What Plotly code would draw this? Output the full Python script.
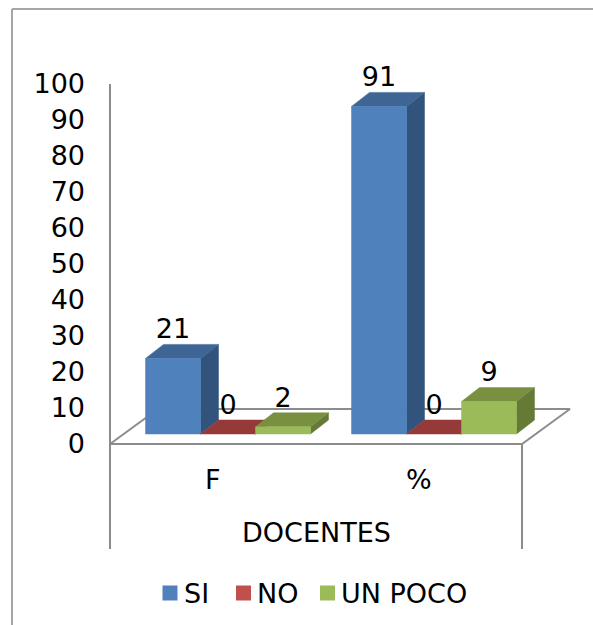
import plotly.graph_objects as go

# Chart data
categories = ["F", "%"]
series_names = ["SI", "NO", "UN POCO"]
si_values = [21, 91]
no_values = [0, 0]
un_poco_values = [2, 9]
axis_ticks = [0, 10, 20, 30, 40, 50, 60, 70, 80, 90, 100]
axis_title = "DOCENTES"

# Colours per series: front, top and side faces
front_colors = ["#4f81bd", "#c0504d", "#9bbb59"]
top_colors = ["#3e6594", "#953a38", "#789040"]
side_colors = ["#32547c", "#7d302e", "#647a36"]
line_color = "#8c8c8c"
FONT = "DejaVu Sans"
FONT_SIZE = 27

# Page geometry in pixels
W, H = 593, 625
PLOT_LEFT = 100
AXIS_X, BASE, TOP = 110, 444, 84
PX_PER_GROUP = 206
PX_PER_VALUE = (BASE - TOP) / 100


def dx(px):
    return px / PX_PER_GROUP


def dy(px):
    return px / PX_PER_VALUE


def page_to_x(px):
    return -0.5 + dx(px - AXIS_X)


def page_to_y(py):
    return dy(BASE - py)


# Oblique projection of the pseudo-3D floor and bar depth
FLOOR_DEPTH = (dx(48), dy(35))
BAR_OFFSET = (dx(15), dy(10))
BAR_DEPTH = (dx(18), dy(14))
BAR_WIDTH = dx(55)

fig = go.Figure()


def polygon(xs, ys, color):
    fig.add_trace(go.Scatter(
        x=xs + xs[:1], y=ys + ys[:1], mode="lines", fill="toself",
        fillcolor=color, line=dict(color=color, width=0.5),
        hoverinfo="skip", showlegend=False))


def rule(xs, ys, color=line_color):
    fig.add_trace(go.Scatter(
        x=xs, y=ys, mode="lines", line=dict(color=color, width=2),
        hoverinfo="skip", showlegend=False))


def caption(x, y, text):
    fig.add_annotation(
        x=x, y=y, text=text, showarrow=False, xanchor="center", yanchor="middle",
        font=dict(family=FONT, size=FONT_SIZE, color="black"))


# Value axis, floor outline and the dividers under the category axis
x_lo, x_hi = -0.5, 1.5
fx, fy = FLOOR_DEPTH
rule([x_lo, x_lo], [0, 100])
rule([x_lo, x_hi, x_hi + fx, x_lo + fx, x_lo], [0, 0, fy, fy, 0])
for x in (x_lo, x_hi):
    rule([x, x], [0, -dy(105)])

# Bars, one box per value, with front, side and top faces
series_values = [si_values, no_values, un_poco_values]
label_x, label_y, label_text = [], [], []
for g in range(len(categories)):
    for s, values in enumerate(series_values):
        v = values[g]
        x0 = g + BAR_OFFSET[0] + (s - 1.5) * BAR_WIDTH
        x1 = x0 + BAR_WIDTH
        y0 = BAR_OFFSET[1]
        y1 = y0 + v
        ddx, ddy = BAR_DEPTH
        polygon([x1, x1 + ddx, x1 + ddx, x1], [y0, y0 + ddy, y1 + ddy, y1], side_colors[s])
        polygon([x0, x1, x1 + ddx, x0 + ddx], [y1, y1, y1 + ddy, y1 + ddy], top_colors[s])
        if v > 0:
            polygon([x0, x1, x1, x0], [y0, y0, y1, y1], front_colors[s])
        label_x.append((x0 + x1) / 2)
        label_y.append(y1 + dy(27))
        label_text.append(str(v))

# Value labels above each bar
fig.add_trace(go.Scatter(
    x=label_x, y=label_y, text=label_text, mode="text",
    textposition="middle center",
    textfont=dict(family=FONT, size=FONT_SIZE, color="black"),
    hoverinfo="skip", showlegend=False))

# Category labels and axis title
for g, name in enumerate(categories):
    caption(g, -dy(35), name)
caption(0.5, -dy(88), axis_title)

# Legend row: swatch and text positions along the page
legend_swatch_px = [170, 243.5, 327.5]
legend_text_px = [182, 255, 339]
legend_row_y = page_to_y(593)
for name, color, sx, tx in zip(series_names, front_colors, legend_swatch_px, legend_text_px):
    fig.add_trace(go.Scatter(
        x=[page_to_x(sx)], y=[legend_row_y], mode="markers", name=name,
        marker=dict(symbol="square", size=15, color=color, line=dict(width=0)),
        hoverinfo="skip", showlegend=False))
    fig.add_annotation(
        x=page_to_x(tx), y=legend_row_y, text=name, showarrow=False,
        xanchor="left", yanchor="middle",
        font=dict(family=FONT, size=FONT_SIZE, color="black"))

# Outer frame, drawn in page pixels
plot_w = W - PLOT_LEFT
for (x0, y0, x1, y1) in [(12, 9, 12, H), (12, 9, W, 9)]:
    fig.add_shape(type="line", xref="paper", yref="paper",
                  x0=(x0 - PLOT_LEFT) / plot_w, y0=1 - y0 / H,
                  x1=(x1 - PLOT_LEFT) / plot_w, y1=1 - y1 / H,
                  line=dict(color="#a6a6a6", width=2))

fig.update_layout(
    width=W, height=H, autosize=False,
    margin=dict(l=PLOT_LEFT, r=0, t=0, b=0, pad=0),
    paper_bgcolor="white", plot_bgcolor="rgba(0,0,0,0)",
    font=dict(family=FONT, size=FONT_SIZE, color="black"),
    showlegend=False,
    xaxis=dict(range=[page_to_x(PLOT_LEFT), page_to_x(W)],
               showticklabels=False, showgrid=False, zeroline=False,
               showline=False, ticks=""),
    yaxis=dict(range=[page_to_y(H), page_to_y(0)], tickmode="array", tickvals=axis_ticks,
               showgrid=False, zeroline=False, showline=False, ticks="",
               ticklabelstandoff=14, tickfont=dict(family=FONT, size=FONT_SIZE)),
)

fig.write_html("out.html")
